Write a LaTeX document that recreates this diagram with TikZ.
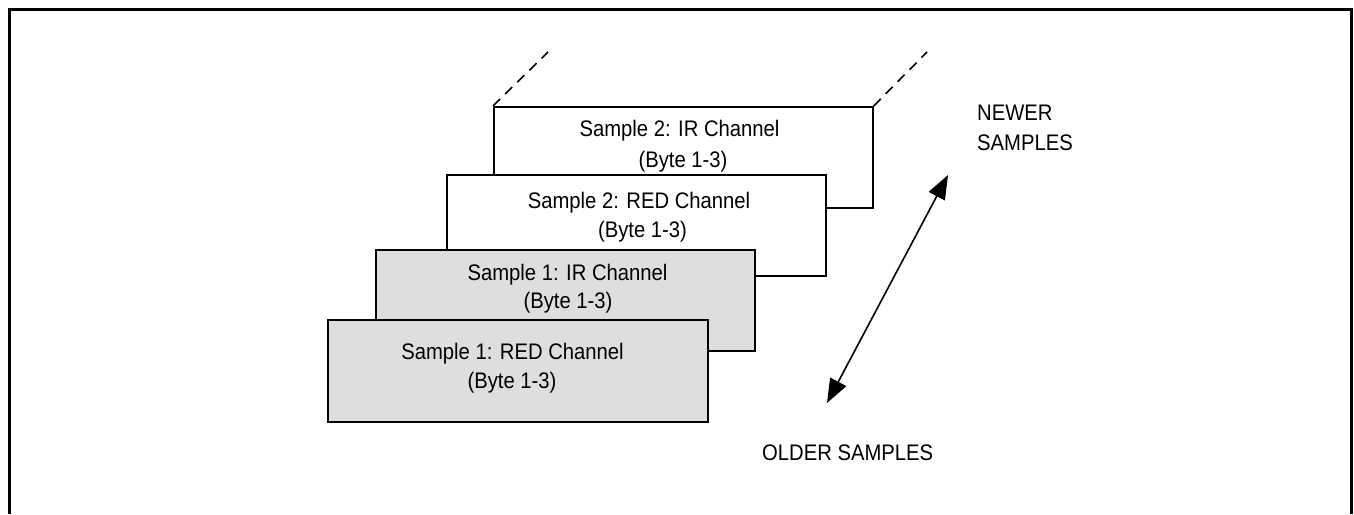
\documentclass[tikz,border=0pt]{standalone}
\usepackage{fontspec}
\setmainfont{Liberation Sans}[FakeStretch=0.9]
\usetikzlibrary{arrows.meta}
\definecolor{boxgrey}{HTML}{DEDEDE}
\tikzset{
  chbox/.style={draw=black, line width=1.7pt, fill=white},
  oldbox/.style={chbox, fill=boxgrey},
  lbl/.style={inner sep=0pt, font=\fontsize{22.5}{27}\selectfont, anchor=base},
  lblw/.style={lbl, anchor=base west},
  dashline/.style={line width=1.6pt, dash pattern=on 10pt off 7pt},
  dblarrow/.style={line width=1.6pt, {Triangle[length=24pt,width=18pt]}-{Triangle[length=24pt,width=18pt]}}
}
\begin{document}
\begin{tikzpicture}[x=1pt,y=-1pt]
\useasboundingbox (0,0) rectangle (1354,514);
% outer frame (open at bottom)
\draw[line width=2.8pt] (9.5,514) -- (9.5,9.5) -- (1351.5,9.5) -- (1351.5,514);

% boxes, back to front
\node[chbox, minimum width=379pt, minimum height=101pt, anchor=north west, inner sep=0pt] (b4) at (493,106) {};
\node[chbox, minimum width=379pt, minimum height=101pt, anchor=north west, inner sep=0pt] (b3) at (446,174) {};
\node[oldbox, minimum width=379pt, minimum height=101pt, anchor=north west, inner sep=0pt] (b2) at (375,249) {};
\node[oldbox, minimum width=380pt, minimum height=102pt, anchor=north west, inner sep=0pt] (b1) at (327,319) {};

% dashed continuation lines
\coordinate (d1) at (548,52);
\coordinate (d2) at (927,52);
\draw[dashline] (b4.north west) -- (d1);
\draw[dashline] (b4.north east) -- (d2);

% texts
\node[lbl] (t4a) at (679.5,136) {Sample 2: IR Channel};
\node[lbl] (t4b) at (683,167) {(Byte 1-3)};
\node[lbl] (t3a) at (639,208) {Sample 2: RED Channel};
\node[lbl] (t3b) at (642.5,237) {(Byte 1-3)};
\node[lbl] (t2a) at (567.5,280) {Sample 1: IR Channel};
\node[lbl] (t2b) at (568,308) {(Byte 1-3)};
\node[lbl] (t1a) at (512.5,359) {Sample 1: RED Channel};
\node[lbl] (t1b) at (512,388) {(Byte 1-3)};

\node[lblw] (n1) at (977,120) {NEWER};
\node[lblw] (n2) at (977,150) {SAMPLES};
\node[lblw] (o1) at (762,460) {OLDER SAMPLES};

% double arrow
\coordinate (aold) at (827,403);
\coordinate (anew) at (948,175);
\draw[dblarrow] (aold) -- (anew);
\end{tikzpicture}
\end{document}
